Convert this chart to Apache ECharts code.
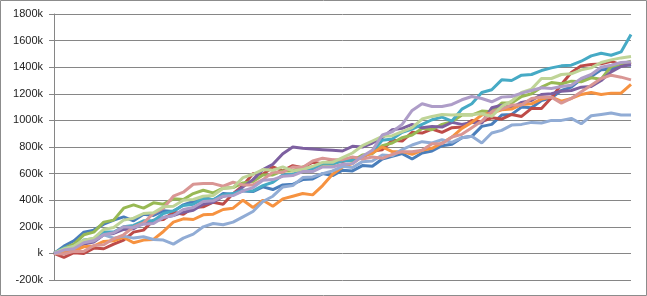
<!DOCTYPE html>
<html><head><meta charset="utf-8">
<script src="https://cdn.jsdelivr.net/npm/echarts@6/dist/echarts.min.js"></script>
<style>html,body{margin:0;padding:0;background:#fff}#c{width:647px;height:296px}</style>
</head><body><div id="c"></div>
<script>
// values in thousands (k)
const blue   = [0,55,95,160,175,220,250,275,245,295,285,320,315,365,390,425,400,450,445,470,465,500,480,515,520,555,560,600,585,625,620,660,655,710,730,750,710,755,770,810,820,870,880,955,970,1040,1045,1100,1095,1150,1170,1225,1250,1310,1330,1380,1385,1420,1415];
const red    = [0,-30,5,0,40,35,70,100,160,175,250,255,310,295,345,350,385,370,450,510,600,595,650,620,660,645,685,675,700,690,715,720,770,780,850,845,910,905,935,910,945,950,1000,990,1020,1010,1045,1030,1090,1090,1170,1270,1360,1410,1420,1425,1445,1415,1435];
const green  = [0,40,70,140,160,235,250,340,365,340,380,370,410,405,450,475,455,490,495,530,540,590,590,620,620,650,640,670,670,700,695,740,750,810,830,870,890,940,930,970,990,1040,1040,1070,1065,1130,1130,1180,1200,1250,1285,1275,1295,1290,1320,1310,1405,1425,1445];
const purple = [0,25,35,70,85,140,150,180,185,230,235,270,285,310,325,370,385,430,445,500,555,630,670,750,800,790,785,780,775,770,805,800,830,870,930,940,970,945,955,950,985,970,985,980,1095,1115,1095,1135,1150,1195,1200,1220,1225,1250,1255,1300,1365,1405,1420];
const teal   = [0,40,50,100,110,160,160,200,210,245,245,300,320,360,370,410,405,440,450,475,470,510,535,590,595,630,635,680,675,695,700,725,765,850,860,910,935,970,1005,1025,995,1085,1125,1210,1230,1305,1300,1340,1345,1375,1395,1410,1415,1445,1485,1505,1490,1515,1645];
const orange = [0,15,20,50,55,90,95,120,80,100,105,165,235,260,255,290,295,330,340,400,345,400,355,410,430,450,440,510,595,650,675,730,755,800,765,765,745,775,790,830,875,940,985,1040,1055,1080,1085,1120,1125,1160,1175,1145,1165,1195,1210,1195,1205,1205,1270];
const ltBlue = [0,30,45,90,95,140,115,130,115,125,105,100,70,115,145,200,225,215,235,275,315,390,430,500,510,570,575,600,620,655,645,690,695,740,735,780,815,840,830,855,835,870,880,830,905,925,965,970,985,980,1000,1000,1015,975,1035,1045,1055,1040,1040];
const pink   = [0,-5,15,15,60,65,110,140,200,230,300,340,430,460,520,525,525,505,535,515,515,555,610,610,650,645,695,715,705,705,725,710,725,715,745,765,765,775,825,825,875,895,945,995,1065,1085,1115,1115,1165,1175,1175,1130,1165,1215,1265,1315,1340,1325,1305];
const ltGreen= [0,35,55,100,115,180,195,250,265,300,305,350,355,400,405,430,435,490,495,570,595,630,625,650,620,630,655,685,685,720,755,810,845,880,885,915,945,1010,1030,1045,1040,1045,1045,1050,1030,1105,1145,1210,1235,1315,1315,1345,1350,1380,1395,1435,1455,1470,1480];
const ltPurp = [0,25,35,80,95,140,155,200,195,220,225,270,285,330,345,390,395,430,435,470,495,550,555,580,585,615,615,650,650,670,675,730,775,890,915,970,1075,1125,1105,1105,1120,1155,1180,1165,1140,1175,1180,1205,1225,1245,1240,1255,1265,1315,1345,1400,1415,1435,1440];

const seriesData = [blue, red, green, purple, teal, orange, ltBlue, pink, ltGreen, ltPurp];
const colors = ['#4A7EBB','#BE4B48','#98B954','#7D60A0','#46AAC5','#F69240','#91ACD5','#D99694','#BFD497','#AE9DC8'];
const categories = blue.map((_, i) => i + 1);
const yMin = -200, yMax = 1800, yStep = 200;

const chart = echarts.init(document.getElementById('c'));
chart.setOption({
  animation: false,
  graphic: [{type:'rect', shape:{x:0.5,y:0.5,width:646,height:295}, style:{fill:'none', stroke:'#8c8c8c', lineWidth:1}, silent:true}],
  grid: {left:54, right:16, top:14, bottom:16},
  xAxis: {type:'category', data:categories, boundaryGap:false,
    axisLine:{show:false}, axisTick:{show:false}, axisLabel:{show:false}, splitLine:{show:false}},
  yAxis: {type:'value', min:yMin, max:yMax, interval:yStep,
    axisLine:{show:true, lineStyle:{color:'#868686'}},
    axisTick:{show:true, length:5, lineStyle:{color:'#868686'}},
    splitLine:{show:true, lineStyle:{color:'#868686', width:1}},
    axisLabel:{margin:11, color:'#222', fontFamily:'Liberation Sans', fontSize:11,
      formatter: v => (v === 0 ? '' : v) + 'k'}},
  series: seriesData.map((d, i) => ({type:'line', data:d, showSymbol:false, symbol:'none',
    lineStyle:{color:colors[i], width:3}, itemStyle:{color:colors[i]}}))
});
</script></body></html>
